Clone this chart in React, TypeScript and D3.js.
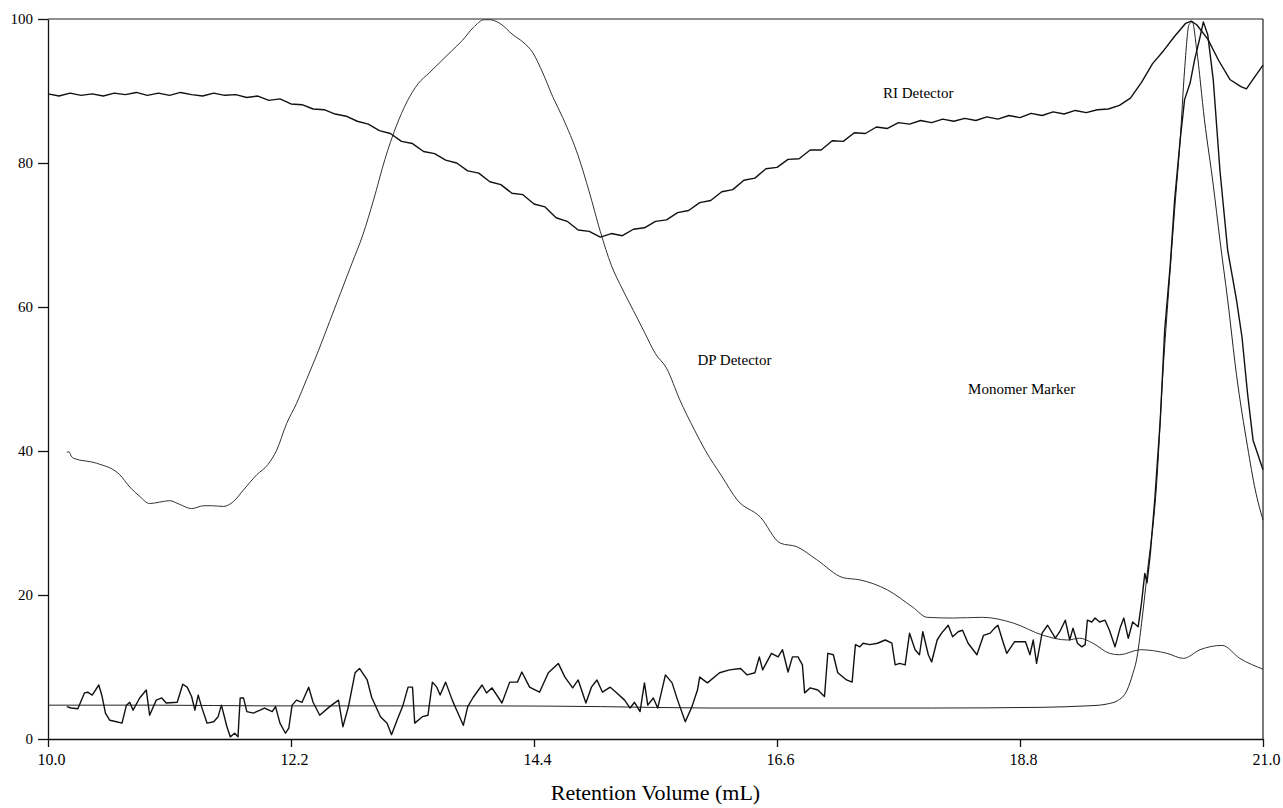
import * as React from "react";
import * as d3 from "d3";

// retention volume (mL), detector response (% of max)
const riTrace: [number, number][] = [
  [10.0, 89.6], [10.1, 89.3], [10.2, 89.7], [10.3, 89.4], [10.4, 89.6], [10.5, 89.3], [10.6, 89.7], [10.7, 89.5],
  [10.8, 89.8], [10.9, 89.4], [11.0, 89.7], [11.1, 89.4], [11.2, 89.8], [11.3, 89.5], [11.4, 89.3], [11.5, 89.7],
  [11.6, 89.4], [11.7, 89.5], [11.8, 89.1], [11.9, 89.3], [12.0, 88.7], [12.1, 88.9], [12.2, 88.2], [12.3, 88.1],
  [12.4, 87.5], [12.5, 87.4], [12.6, 86.8], [12.7, 86.5], [12.8, 85.8], [12.9, 85.4], [13.0, 84.5], [13.1, 84.1],
  [13.2, 83.0], [13.3, 82.7], [13.4, 81.6], [13.5, 81.3], [13.6, 80.4], [13.7, 80.0], [13.8, 78.9], [13.9, 78.6],
  [14.0, 77.4], [14.1, 77.0], [14.2, 75.8], [14.3, 75.6], [14.4, 74.3], [14.5, 73.9], [14.6, 72.4], [14.7, 71.9],
  [14.8, 70.7], [14.9, 70.5], [15.0, 69.7], [15.1, 70.2], [15.2, 69.9], [15.3, 70.8], [15.4, 71.0], [15.5, 71.9],
  [15.6, 72.1], [15.7, 73.1], [15.8, 73.4], [15.9, 74.5], [16.0, 74.8], [16.1, 76.0], [16.2, 76.3], [16.3, 77.6],
  [16.4, 77.9], [16.5, 79.2], [16.6, 79.4], [16.7, 80.5], [16.8, 80.6], [16.9, 81.8], [17.0, 81.8], [17.1, 83.1],
  [17.2, 83.0], [17.3, 84.2], [17.4, 84.1], [17.5, 85.0], [17.6, 84.8], [17.7, 85.6], [17.8, 85.4], [17.9, 85.9],
  [18.0, 85.6], [18.1, 86.1], [18.2, 85.8], [18.3, 86.2], [18.4, 85.9], [18.5, 86.4], [18.6, 86.1], [18.7, 86.6],
  [18.8, 86.3], [18.9, 86.9], [19.0, 86.6], [19.1, 87.1], [19.2, 86.8], [19.3, 87.3], [19.4, 87.0], [19.5, 87.4],
  [19.6, 87.5], [19.7, 88.0], [19.8, 89.0], [19.9, 91.2], [20.0, 93.8], [20.1, 95.6], [20.2, 97.6], [20.3, 99.4],
  [20.35, 99.7], [20.4, 99.2], [20.5, 97.2], [20.6, 94.2], [20.7, 91.6], [20.8, 90.6], [20.85, 90.3], [20.9, 91.4],
  [21.0, 93.6],
];

const dpTrace: [number, number][] = [
  [10.17, 39.8], [10.19, 39.9], [10.21, 39.3], [10.23, 39.0], [10.44, 38.3], [10.65, 36.7], [10.74, 35.0],
  [10.83, 33.7], [10.92, 32.7], [11.01, 32.9], [11.1, 33.1], [11.19, 32.6], [11.3, 32.0], [11.41, 32.4],
  [11.48, 32.4], [11.59, 32.3], [11.68, 33.0], [11.77, 34.6], [11.89, 36.7], [11.99, 38.1], [12.07, 40.1],
  [12.16, 43.8], [12.25, 46.6], [12.34, 49.9], [12.45, 54], [12.55, 58], [12.65, 62], [12.75, 66], [12.85, 70],
  [12.95, 75], [13.05, 80.5], [13.15, 85], [13.25, 88.5], [13.35, 91], [13.45, 92.5], [13.55, 94], [13.65, 95.5],
  [13.75, 97], [13.85, 98.8], [13.95, 99.9], [14.0, 99.9], [14.09, 99.4], [14.21, 97.8], [14.3, 96.8],
  [14.39, 95.3], [14.48, 92.5], [14.57, 89.2], [14.66, 86.3], [14.8, 81], [14.9, 76], [15.0, 70.5],
  [15.1, 65.8], [15.2, 62.5], [15.3, 59.5], [15.4, 56.5], [15.5, 53.5], [15.6, 51.5], [15.72, 47.1],
  [15.85, 43], [15.95, 40.1], [16.1, 36.5], [16.24, 33.2], [16.45, 30.8], [16.63, 27.2], [16.78, 26.7],
  [16.96, 24.9], [17.2, 22.4], [17.35, 22.1], [17.6, 20.7], [17.83, 18.3], [17.96, 16.9], [18.19, 16.8],
  [18.46, 16.9], [18.74, 16.1], [19.01, 14.4], [19.23, 13.75], [19.34, 14.0], [19.46, 13.3], [19.61, 11.9],
  [19.7, 11.7], [19.89, 12.4], [20.13, 11.9], [20.28, 11.2], [20.43, 12.4], [20.63, 13.0], [20.79, 11.2],
  [21.0, 9.7],
];

// unlabelled noisy trace
const lsTrace: [number, number][] = [
  [10.17, 4.5], [10.21, 4.3], [10.27, 4.2], [10.33, 6.4], [10.36, 6.5], [10.4, 6.1], [10.46, 7.5], [10.49, 5.9],
  [10.52, 3.6], [10.56, 2.6], [10.62, 2.4], [10.67, 2.2], [10.71, 4.7], [10.74, 5.1], [10.77, 4.0], [10.83, 5.7],
  [10.89, 6.8], [10.92, 3.3], [10.98, 5.4], [11.03, 5.7], [11.07, 5.0], [11.17, 5.1], [11.22, 7.6], [11.26, 7.2],
  [11.3, 5.9], [11.33, 4.0], [11.36, 6.1], [11.39, 4.5], [11.44, 2.2], [11.5, 2.4], [11.54, 3.1], [11.57, 4.7],
  [11.62, 1.7], [11.65, 0.3], [11.69, 0.8], [11.72, 0.3], [11.74, 5.7], [11.77, 5.7], [11.8, 3.8], [11.86, 3.6],
  [11.92, 4.0], [11.96, 4.3], [12.03, 3.8], [12.06, 4.5], [12.1, 2.2], [12.15, 0.8], [12.18, 1.5], [12.21, 4.7],
  [12.25, 5.4], [12.3, 5.1], [12.36, 7.2], [12.4, 5.1], [12.46, 3.3], [12.55, 4.5], [12.63, 5.4], [12.67, 1.7],
  [12.72, 4.5], [12.78, 9.2], [12.82, 9.8], [12.89, 8.2], [12.93, 5.8], [13.01, 3.1], [13.07, 2.2], [13.11, 0.6],
  [13.16, 2.6], [13.21, 4.5], [13.26, 7.2], [13.3, 7.2], [13.32, 2.2], [13.39, 3.1], [13.44, 3.3], [13.48, 7.9],
  [13.52, 7.2], [13.55, 6.1], [13.6, 7.9], [13.66, 5.4], [13.7, 4.0], [13.76, 1.9], [13.8, 4.5], [13.85, 5.8],
  [13.93, 7.5], [13.97, 6.4], [14.02, 7.1], [14.11, 5.0], [14.18, 7.9], [14.25, 7.9], [14.29, 9.3], [14.36, 7.2],
  [14.45, 6.5], [14.53, 9.2], [14.62, 10.5], [14.68, 8.6], [14.75, 7.1], [14.8, 8.2], [14.87, 5.0], [14.92, 7.2],
  [14.97, 8.2], [15.02, 6.5], [15.09, 7.2], [15.15, 6.4], [15.22, 5.4], [15.27, 4.3], [15.31, 5.1], [15.36, 3.8],
  [15.4, 7.8], [15.43, 4.7], [15.48, 5.7], [15.52, 4.3], [15.59, 8.9], [15.65, 7.8], [15.7, 5.4], [15.77, 2.4],
  [15.83, 4.5], [15.88, 6.8], [15.9, 8.6], [15.97, 7.8], [16.08, 9.2], [16.17, 9.6], [16.27, 9.8], [16.33, 8.9],
  [16.4, 9.2], [16.44, 11.4], [16.47, 9.6], [16.55, 11.9], [16.61, 11.4], [16.65, 12.4], [16.7, 9.3], [16.74, 11.4],
  [16.79, 11.4], [16.83, 10.3], [16.85, 6.4], [16.9, 7.1], [16.97, 6.8], [17.03, 5.9], [17.06, 11.9], [17.11, 11.7],
  [17.15, 9.2], [17.23, 8.2], [17.28, 7.9], [17.31, 13.1], [17.35, 12.8], [17.38, 13.3], [17.44, 13.1], [17.51, 13.3],
  [17.58, 13.75], [17.64, 13.3], [17.67, 10.3], [17.71, 10.5], [17.76, 10.3], [17.8, 14.7], [17.85, 12.4],
  [17.89, 11.7], [17.92, 14.9], [17.97, 11.7], [18.0, 10.7], [18.05, 13.75], [18.09, 14.7], [18.15, 15.8],
  [18.19, 14.2], [18.24, 14.9], [18.28, 15.1], [18.33, 13.3], [18.41, 11.7], [18.47, 14.4], [18.53, 14.7],
  [18.57, 15.4], [18.6, 15.8], [18.65, 13.3], [18.68, 11.9], [18.75, 13.5], [18.85, 13.5], [18.89, 11.7],
  [18.92, 13.75], [18.95, 10.5], [19.0, 14.7], [19.05, 15.8], [19.12, 14.0], [19.16, 14.9], [19.21, 16.5],
  [19.25, 13.75], [19.28, 15.4], [19.32, 13.3], [19.36, 12.8], [19.39, 13.1], [19.41, 16.5], [19.45, 16.25],
  [19.48, 16.8], [19.52, 16.25], [19.57, 16.5], [19.61, 15.1], [19.66, 12.8], [19.71, 15.6], [19.74, 16.8],
  [19.78, 14.0], [19.82, 16.25], [19.87, 15.6], [19.9, 18.9], [19.93, 23.0], [19.95, 21.7], [19.98, 25.8],
  [20.02, 33.2], [20.07, 44.3], [20.11, 56.8], [20.16, 65.8], [20.2, 74.9], [20.25, 83.2], [20.29, 88.8],
  [20.34, 91.1], [20.38, 94.3], [20.43, 97.5], [20.46, 99.6], [20.5, 97.8], [20.55, 91.5], [20.61, 79.0],
  [20.68, 67.9], [20.76, 61.0], [20.81, 55.8], [20.86, 48.0], [20.91, 41.5], [21.0, 37.4],
];

const monomerTrace: [number, number][] = [
  [10.0, 4.7], [11.0, 4.7], [12.0, 4.6], [13.0, 4.6], [14.0, 4.6], [15.0, 4.5], [16.0, 4.3], [17.0, 4.3],
  [18.0, 4.3], [19.0, 4.4], [19.4, 4.6], [19.52, 4.7], [19.6, 4.9], [19.68, 5.3], [19.77, 6.8], [19.82, 9.0],
  [19.86, 11.4], [19.9, 16.0], [19.95, 22.8], [20.04, 36.1], [20.09, 49.9], [20.14, 61.0], [20.2, 73.5],
  [20.25, 83.2], [20.29, 92.9], [20.33, 99.2], [20.36, 99.6], [20.4, 95.7], [20.47, 86.0], [20.55, 76.9],
  [20.61, 69.3], [20.68, 61.0], [20.76, 50.6], [20.86, 40.6], [20.93, 34.6], [21.0, 30.4],
];

const xTicks = [10.0, 12.2, 14.4, 16.6, 18.8, 21.0];
const yTicks = [0, 20, 40, 60, 80, 100];

// annotation text, anchored in data units (x, y of the baseline start)
const traceLabels: { text: string; x: number; y: number }[] = [
  { text: "RI Detector", x: 17.56, y: 89.0 },
  { text: "DP Detector", x: 15.88, y: 51.9 },
  { text: "Monomer Marker", x: 18.33, y: 47.9 },
];

const WIDTH = 1283;
const HEIGHT = 808;
const LEFT = 48;
const RIGHT = 1263;
const TOP = 19;
const BOTTOM = 739;
const FONT = "'Liberation Serif', 'Times New Roman', serif";

export default function App() {
  const xAxisRef = React.useRef<SVGGElement>(null);
  const yAxisRef = React.useRef<SVGGElement>(null);

  const x = d3.scaleLinear().domain([10, 21]).range([LEFT, RIGHT]);
  const y = d3.scaleLinear().domain([0, 100]).range([BOTTOM, TOP]);

  const smooth = d3.line<[number, number]>()
    .x(d => x(d[0]))
    .y(d => y(d[1]))
    .curve(d3.curveMonotoneX);
  const jagged = d3.line<[number, number]>()
    .x(d => x(d[0]))
    .y(d => y(d[1]));

  React.useEffect(() => {
    const xa = d3.select(xAxisRef.current);
    xa.call(d3.axisBottom(x).tickValues(xTicks).tickFormat(d3.format(".1f")).tickSize(8).tickSizeOuter(0).tickPadding(7));
    xa.selectAll("text").attr("font-size", 16).attr("font-family", FONT).attr("fill", "#000").attr("dx", 3);
    xa.selectAll("line,path").attr("stroke", "#111").attr("stroke-width", 1.3);

    const ya = d3.select(yAxisRef.current);
    ya.call(d3.axisLeft(y).tickValues(yTicks).tickSize(10).tickSizeOuter(0).tickPadding(5));
    ya.selectAll("text").attr("font-size", 15).attr("font-family", FONT).attr("fill", "#000");
    ya.selectAll("line,path").attr("stroke", "#111").attr("stroke-width", 1.3);
  }, []);

  return (
    <svg width={WIDTH} height={HEIGHT} style={{ position: "absolute", left: 0, top: 0, background: "#fff" }}>
      <rect x={0} y={0} width={WIDTH} height={HEIGHT} fill="#fff" />
      {/* frame top and right */}
      <line x1={LEFT} x2={RIGHT} y1={TOP} y2={TOP} stroke="#222" strokeWidth={1.2} />
      <line x1={RIGHT} x2={RIGHT} y1={TOP} y2={BOTTOM} stroke="#222" strokeWidth={1.2} />
      <g ref={xAxisRef} transform={`translate(0,${BOTTOM})`} />
      <g ref={yAxisRef} transform={`translate(${LEFT},0)`} />

      <g fill="none" strokeLinejoin="round">
        <path d={smooth(monomerTrace) ?? ""} stroke="#222" strokeWidth={1} />
        <path d={smooth(dpTrace) ?? ""} stroke="#333" strokeWidth={1} />
        <path d={jagged(lsTrace) ?? ""} stroke="#111" strokeWidth={1.4} />
        <path d={jagged(riTrace) ?? ""} stroke="#111" strokeWidth={1.4} />
      </g>

      {traceLabels.map((l, i) => (
        <text key={i} x={x(l.x)} y={y(l.y)} fontSize={15} fontFamily={FONT} fill="#000">
          {l.text}
        </text>
      ))}

      <text x={(LEFT + RIGHT) / 2} y={800} textAnchor="middle" fontSize={22} fontFamily={FONT} fill="#000">
        Retention Volume (mL)
      </text>
    </svg>
  );
}
